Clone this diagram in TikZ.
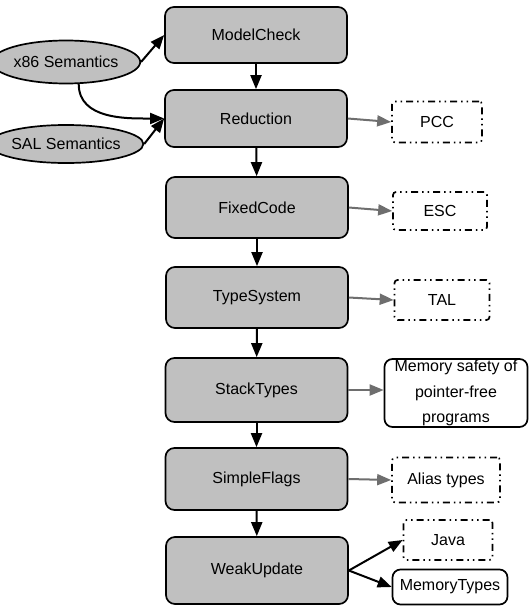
\documentclass[tikz,border=0pt]{standalone}
\usepackage{fontspec}
\setmainfont{Liberation Sans}
\usepackage{tikz}
\usetikzlibrary{arrows.meta}
\usetikzlibrary{shapes}

\definecolor{boxgray}{RGB}{192,192,192}
\definecolor{linkgray}{RGB}{110,110,110}

\begin{document}
\begin{tikzpicture}[x=1pt, y=-1pt]
            \tikzset{every node/.style={font=\fontsize{16}{19}\selectfont, line width=1.7pt},
                    stage/.style={draw, rectangle, rounded corners=9pt, fill=boxgray, minimum width=182pt},
                    sem/.style={draw, ellipse, fill=boxgray, inner sep=0pt},
                    rel/.style={draw, rectangle, rounded corners=3pt,
                        dash pattern=on 7pt off 4pt on 1.5pt off 4pt on 1.5pt off 4pt},
                    res/.style={draw, rectangle, rounded corners=8pt, fill=white},
                    >={Triangle[length=14pt, width=11pt]},
                    every edge/.style={draw=black, line width=2pt}}
            \useasboundingbox (0,0) rectangle (528,610);
            \node[stage, minimum height=56pt] (1) at (256, 35) {ModelCheck};
            \node[stage, minimum height=57pt] (2) at (256, 118.5) {Reduction};
            \node[stage, minimum height=61pt] (3) at (257, 207.5) {FixedCode};
            \node[stage, minimum height=61pt] (4) at (257, 297.5) {TypeSystem};
            \node[stage, minimum height=64pt] (5) at (256.5, 390) {StackTypes};
            \node[stage, minimum height=62pt] (6) at (256.5, 479) {SimpleFlags};
            \node[stage, minimum height=67pt] (7) at (257, 570.5) {WeakUpdate};
            \node[sem, minimum width=132pt, minimum height=43pt] (x86) at (66, 62) {x86 Semantics};
            \node[sem, minimum width=132pt, minimum height=38pt] (sal) at (66, 144) {SAL Semantics};
            \node[rel, minimum width=90pt, minimum height=41pt] (pcc) at (437, 122) {PCC};
            \node[rel, minimum width=94pt, minimum height=38pt] (esc) at (440, 211) {ESC};
            \node[rel, minimum width=95pt, minimum height=40pt] (tal) at (442, 300) {TAL};
            \node[res, minimum width=143pt, minimum height=68pt, align=center, inner sep=0pt,
                font=\fontsize{16}{25.5}\selectfont] (mem) at (456, 393)
                {Memory safety of\\pointer-free\\programs};
            \node[rel, minimum width=108pt, minimum height=45pt] (alias) at (446, 480) {Alias types};
            \node[rel, minimum width=89pt, minimum height=40pt] (java) at (448, 540) {Java};
            \node[res, minimum width=115pt, minimum height=35pt, inner sep=1pt] (mt) at (450, 587) {MemoryTypes};
            \path [->] (1) edge (2);
            \path [->] (2) edge (3);
            \path [->] (3) edge (4);
            \path [->] (4) edge (5);
            \path [->] (5) edge (6);
            \path [->] (6) edge (7);
            \path [->] (x86.east) edge (1.west);
            \path [->] (x86.-60) edge[out=-90, in=180] (2.west);
            \path [->] (sal.east) edge (2.west);
            \path [->] (2.east) edge[draw=linkgray, -{Triangle[length=14pt, width=11pt, fill=linkgray]}] (pcc.west);
            \path [->] (3.east) edge[draw=linkgray, -{Triangle[length=14pt, width=11pt, fill=linkgray]}] (esc.west);
            \path [->] (4.east) edge[draw=linkgray, -{Triangle[length=14pt, width=11pt, fill=linkgray]}] (tal.west);
            \path [->] (5.east) edge[draw=linkgray, -{Triangle[length=14pt, width=11pt, fill=linkgray]}] (mem.west |- 5.east);
            \path [->] (6.east) edge[draw=linkgray, -{Triangle[length=14pt, width=11pt, fill=linkgray]}] (alias.west);
            \path [->] (7.east) edge (java.west);
            \path [->] (7.east) edge (mt.west);
        \end{tikzpicture}
\end{document}
